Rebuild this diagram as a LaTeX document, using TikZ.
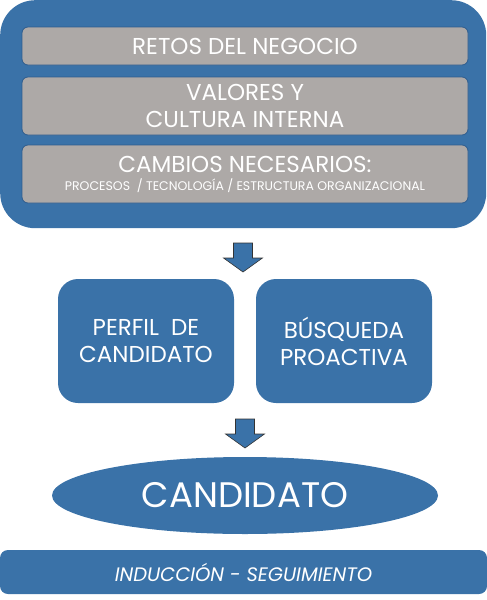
\documentclass[tikz,border=0pt]{standalone}
\usepackage{fontspec}
\setmainfont{Poppins}
\usetikzlibrary{shapes.geometric}

\definecolor{azul}{HTML}{3A72A8}
\definecolor{gris}{HTML}{ADA9A7}
\definecolor{borde}{HTML}{2E5C8E}

\tikzset{
  caja/.style={draw=borde, line width=0.8pt, fill=gris, rounded corners=6pt, text=white, align=center, minimum width=446pt, inner sep=0pt, font=\fontsize{23}{27}\selectfont},
  bloque/.style={fill=azul, rounded corners=20pt, text=white, align=center, minimum width=176pt, minimum height=124pt, inner sep=0pt, font=\fontsize{23}{27}\selectfont},
  flecha/.style={fill=azul, draw=black!80, line width=0.6pt, line join=miter},
}

\begin{document}
\begin{tikzpicture}[x=1pt,y=-1pt]
        \useasboundingbox (0,0) rectangle (487,600);
        \node[fill=azul, rounded corners=35pt, minimum width=486pt, minimum height=228pt, inner sep=0pt, anchor=north west] (marco) at (0,0) {};
        \node[caja, minimum height=38pt] (retos) at (245,46) {RETOS DEL NEGOCIO};
        \node[caja, minimum height=58pt] (valores) at (245,106) {VALORES Y\\CULTURA INTERNA};
        \node[caja, minimum height=58pt] (cambios) at (245,174) {CAMBIOS NECESARIOS:\\[-9pt]{\fontsize{12.5}{14}\selectfont PROCESOS~~/ TECNOLOGÍA / ESTRUCTURA ORGANIZACIONAL}};
        \node[bloque] (perfil) at (146,341) {PERFIL~~DE\\CANDIDATO};
        \node[bloque] (busqueda) at (344,341) {BÚSQUEDA\\PROACTIVA};
        \node[ellipse, fill=azul, minimum width=386pt, minimum height=77pt, inner sep=0pt, text=white, font=\fontsize{35.5}{40}\selectfont] (candidato) at (245,495.5) {CANDIDATO};
        \node[fill=azul, rounded corners=8pt, minimum width=487pt, minimum height=44pt, inner sep=0pt, text=white, font=\fontsize{19.5}{22}\selectfont\itshape] (induccion) at (243.5,572) {INDUCCIÓN - SEGUIMIENTO};
        \coordinate (f1) at (243,243);
        \coordinate (f2) at (245,419);
        \draw[flecha] (f1) ++(-9.5,0) -- ++(19,0) -- ++(0,15) -- ++(10,0) -- ++(-19.5,14) -- ++(-19.5,-14) -- ++(10,0) -- cycle;
        \draw[flecha] (f2) ++(-9.5,0) -- ++(19,0) -- ++(0,15) -- ++(10,0) -- ++(-19.5,14) -- ++(-19.5,-14) -- ++(10,0) -- cycle;
    \end{tikzpicture}
\end{document}
